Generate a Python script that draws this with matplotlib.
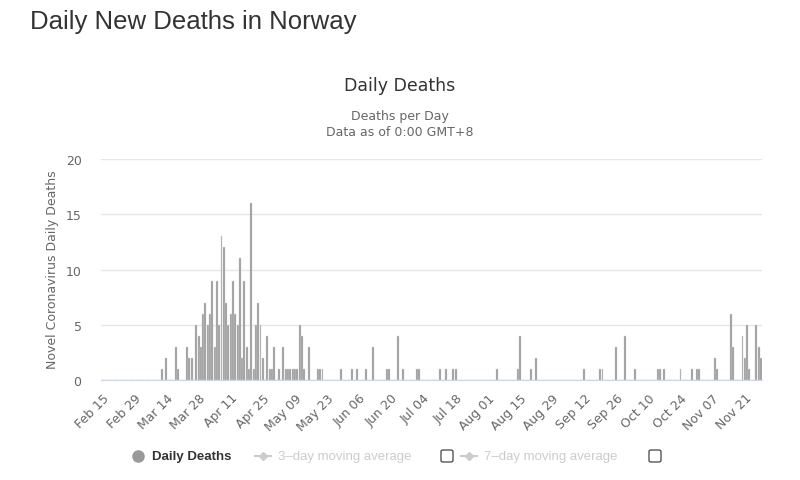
import matplotlib
matplotlib.use("Agg")
import matplotlib.pyplot as plt
from matplotlib.lines import Line2D
from matplotlib.patches import FancyBboxPatch
import pandas as pd

# --- data ---
start_date = "2020-02-15"
daily_deaths = [
    0, 0, 0, 0, 0, 0, 0, 0, 0, 0, 0, 0, 0, 0, 0, 0, 0, 0, 0, 0, 0, 0, 0, 0,
    0, 0, 1, 0, 2, 0, 0, 0, 3, 1, 0, 0, 0, 3, 2, 2, 0, 5, 4, 3, 6, 7, 5, 6,
    9, 3, 9, 5, 13, 12, 7, 5, 6, 9, 6, 5, 11, 2, 9, 3, 1, 16, 1, 5, 7, 5, 2, 0,
    4, 1, 1, 3, 0, 1, 0, 3, 1, 1, 1, 1, 1, 1, 5, 4, 1, 0, 3, 0, 0, 0, 1, 1,
    1, 0, 0, 0, 0, 0, 0, 0, 1, 0, 0, 0, 0, 1, 0, 1, 0, 0, 0, 1, 0, 0, 3, 0,
    0, 0, 0, 0, 1, 1, 0, 0, 0, 4, 0, 1, 0, 0, 0, 0, 0, 1, 1, 0, 0, 0, 0, 0,
    0, 0, 0, 1, 0, 0, 1, 0, 0, 1, 1, 0, 0, 0, 0, 0, 0, 0, 0, 0, 0, 0, 0, 0,
    0, 0, 0, 0, 1, 0, 0, 0, 0, 0, 0, 0, 0, 1, 4, 0, 0, 0, 0, 1, 0, 2, 0, 0,
    0, 0, 0, 0, 0, 0, 0, 0, 0, 0, 0, 0, 0, 0, 0, 0, 0, 0, 1, 0, 0, 0, 0, 0,
    0, 1, 1, 0, 0, 0, 0, 0, 3, 0, 0, 0, 4, 0, 0, 0, 1, 0, 0, 0, 0, 0, 0, 0,
    0, 0, 1, 1, 0, 1, 0, 0, 0, 0, 0, 0, 1, 0, 0, 0, 0, 1, 0, 1, 1, 0, 0, 0,
    0, 0, 0, 2, 1, 0, 0, 0, 0, 0, 6, 3, 0, 0, 0, 4, 2, 5, 1, 0, 0, 5, 3, 2,
]
dates = pd.date_range(start_date, periods=len(daily_deaths), freq="D")
tick_step = 14
y_ticks = [0, 5, 10, 15, 20]

# --- figure ---
fig = plt.figure(figsize=(8.0, 4.81), dpi=100)
ax = fig.add_axes([101 / 800, 100 / 481, 661 / 800, 221 / 481])

x = list(range(len(daily_deaths)))
ax.bar(x, daily_deaths, width=0.85, color="#999999", edgecolor="#d6d6d6",
       linewidth=0.3, zorder=3)

ax.set_xlim(-0.5, len(daily_deaths) - 0.5)
ax.set_ylim(0, 20)
ax.set_yticks(y_ticks)
ax.yaxis.grid(True, color="#e6e6e6", linewidth=1, zorder=0)
ax.tick_params(axis="y", length=0, labelsize=9, labelcolor="#666666", pad=14)

tick_pos = x[::tick_step]
tick_lab = [d.strftime("%b %d") for d in dates[::tick_step]]
ax.set_xticks(tick_pos)
ax.set_xticklabels(tick_lab, rotation=45, ha="right", rotation_mode="anchor")
ax.tick_params(axis="x", length=0, labelsize=9, labelcolor="#666666", pad=8)

for side in ["top", "right", "left"]:
    ax.spines[side].set_visible(False)
ax.spines["bottom"].set_color("#ccd6eb")
ax.spines["bottom"].set_zorder(4)

fig.text(53 / 800, 1 - 270 / 481, "Novel Coronavirus Daily Deaths", rotation=90,
         ha="center", va="center", fontsize=9, color="#666666")

# --- titles ---
fig.text(30 / 800, 1 - 22 / 481, "Daily New Deaths in Norway", ha="left",
         va="center", fontsize=18.5, color="#333333", family="Liberation Sans")
fig.text(0.5, 1 - 86 / 481, "Daily Deaths", ha="center", va="center",
         fontsize=12.5, color="#333333")
fig.text(0.5, 1 - 117 / 481, "Deaths per Day", ha="center", va="center",
         fontsize=9, color="#666666")
fig.text(0.5, 1 - 133 / 481, "Data as of 0:00 GMT+8", ha="center", va="center",
         fontsize=9, color="#666666")

# --- legend (drawn by hand) ---
ly = 1 - 457 / 481
fig.add_artist(Line2D([138 / 800], [ly], marker="o", markersize=8,
                      color="#999999", linestyle="none", transform=fig.transFigure))
fig.text(152 / 800, ly, "Daily Deaths", ha="left", va="center", fontsize=9.5,
         fontweight="bold", color="#333333", family="Liberation Sans")

for x0, label, bx in [(255, "3\u2013day moving average", 441),
                      (461, "7\u2013day moving average", 649)]:
    fig.add_artist(Line2D([x0 / 800, (x0 + 16) / 800], [ly, ly], color="#cccccc",
                          linewidth=1.5, marker=None, transform=fig.transFigure))
    fig.add_artist(Line2D([(x0 + 8) / 800], [ly], marker="D", markersize=4,
                          color="#cccccc", linestyle="none", transform=fig.transFigure))
    fig.text((x0 + 23) / 800, ly, label, ha="left", va="center", fontsize=9.5,
             color="#cccccc", family="Liberation Sans")
    fig.add_artist(FancyBboxPatch((bx / 800, ly - 6 / 481), 12 / 800, 12 / 481,
                                  boxstyle="round,pad=0,rounding_size=0.003",
                                  facecolor="white", edgecolor="#444444",
                                  linewidth=0.9, transform=fig.transFigure))

fig.savefig("out.png", dpi=100)
